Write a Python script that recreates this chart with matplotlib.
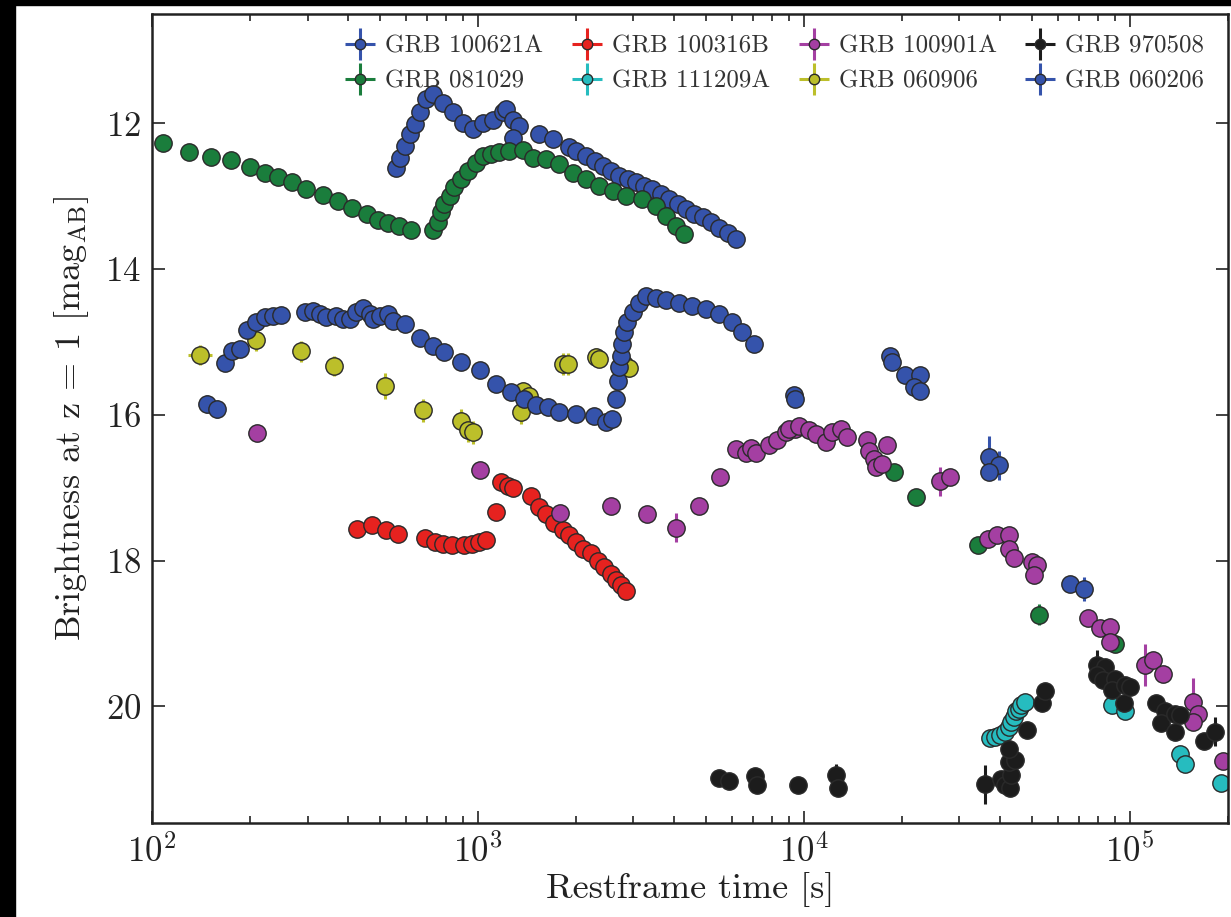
import numpy as np
import matplotlib
matplotlib.use("Agg")
import matplotlib.pyplot as plt
from matplotlib.patches import Rectangle
from matplotlib.ticker import LogLocator, NullFormatter, FixedLocator
from matplotlib.container import ErrorbarContainer
from matplotlib.legend_handler import HandlerErrorbar

# --- Restframe light curves of bright GRB afterglows at z = 1 ---

plt.rcParams['font.family'] = 'serif'
plt.rcParams['font.serif'] = ['cmr10']
plt.rcParams['mathtext.fontset'] = 'cm'
plt.rcParams['axes.formatter.use_mathtext'] = True

# GRB 100621A (blue, top)
t_100621A = [561, 575, 596, 617, 639, 662, 694, 727, 780, 837, 898, 964, 1035, 1110,
             1191, 1220, 1280, 1341, 1280, 1542, 1694, 1906, 2000, 2143, 2280, 2411,
             2560, 2711, 2880, 3049, 3230, 3429, 3640, 3861, 4100, 4343, 4600, 4885,
             5180, 5495, 5830, 6180]
m_100621A = [12.61, 12.47, 12.31, 12.15, 12.01, 11.85, 11.67, 11.60, 11.72, 11.85, 11.99,
             12.08, 11.99, 11.95, 11.85, 11.81, 11.95, 12.04, 12.20, 12.15, 12.22, 12.33,
             12.38, 12.45, 12.52, 12.58, 12.65, 12.72, 12.77, 12.81, 12.86, 12.90, 12.97,
             13.04, 13.11, 13.18, 13.24, 13.29, 13.36, 13.43, 13.51, 13.59]

# GRB 081029 (green)
t_081029 = [108, 130, 152, 175, 200, 222, 244, 268, 296, 334, 373, 411, 456, 494, 531,
            572, 624,
            727, 754, 771, 789, 818, 847, 889, 931, 988, 1035, 1097, 1164, 1248, 1371,
            1471, 1615, 1778, 1951, 2143, 2355, 2587, 2843, 3197, 3514, 3770, 4047, 4290,
            18880, 22090, 34200, 52500, 90100]
m_081029 = [12.27, 12.39, 12.46, 12.51, 12.60, 12.68, 12.74, 12.81, 12.90, 12.99, 13.06,
            13.16, 13.24, 13.32, 13.37, 13.41, 13.47,
            13.47, 13.36, 13.22, 13.11, 13.00, 12.88, 12.77, 12.65, 12.54, 12.45, 12.42,
            12.40, 12.38, 12.36, 12.47, 12.49, 12.56, 12.68, 12.77, 12.86, 12.93, 13.00,
            13.04, 13.13, 13.27, 13.41, 13.52,
            16.78, 17.13, 17.78, 18.74, 19.14]
e_081029 = [0] * 47 + [0.15, 0]

# GRB 100316B (red)
t_100316B = [426, 474, 521, 568, 686, 736, 780, 832, 909, 959, 1010, 1059, 1138, 1178,
             1235, 1280, 1457, 1543, 1618, 1715, 1820, 1906, 2000, 2095, 2222, 2330,
             2442, 2560, 2650, 2744, 2843]
m_100316B = [17.56, 17.51, 17.58, 17.63, 17.69, 17.74, 17.77, 17.79, 17.79, 17.77, 17.74,
             17.72, 17.33, 16.92, 16.97, 17.01, 17.11, 17.26, 17.36, 17.49, 17.58, 17.65,
             17.74, 17.84, 17.90, 18.00, 18.09, 18.18, 18.27, 18.34, 18.41]

# GRB 111209A (cyan)
t_111209A = [37250, 38600, 39990, 41400, 42440, 43250, 43970, 44740, 45610, 46460,
             47800, 87900, 96600, 142300, 147500, 191000]
m_111209A = [20.43, 20.42, 20.39, 20.35, 20.28, 20.21, 20.14, 20.07, 20.03, 19.98,
             19.94, 19.98, 20.07, 20.66, 20.79, 21.05]

# GRB 100901A (magenta)
t_100901A = [210, 1015, 1783, 2560, 3311, 4046, 4782, 5545, 6177, 6626, 6862, 7110, 7820,
             8290, 8790, 9420, 8990, 9660, 10360, 10860, 11650, 12210, 12950, 13570,
             15640, 15820, 16390, 16590, 17390, 17990, 26190, 28100, 36810, 39080, 42440,
             42440, 43970, 50000, 51800, 50700, 74600, 81000, 86900, 86900, 111200,
             118000, 126500, 156600, 162300, 156600, 193000]
m_100901A = [16.25, 16.75, 17.34, 17.25, 17.36, 17.55, 17.25, 16.85, 16.47, 16.53, 16.45,
             16.53, 16.42, 16.35, 16.24, 16.19, 16.19, 16.15, 16.21, 16.26, 16.37, 16.24,
             16.19, 16.31, 16.35, 16.49, 16.60, 16.72, 16.67, 16.42, 16.91, 16.85, 17.70,
             17.65, 17.65, 17.84, 17.97, 18.02, 18.06, 18.20, 18.79, 18.92, 18.91, 19.11,
             19.43, 19.37, 19.55, 19.94, 20.11, 20.22, 20.75]
e_100901A = [0, 0, 0, 0, 0, 0.2, 0, 0, 0, 0, 0, 0, 0, 0, 0, 0, 0, 0, 0, 0, 0, 0, 0, 0,
             0, 0, 0, 0, 0, 0, 0.2, 0, 0, 0, 0, 0, 0, 0, 0, 0, 0, 0, 0, 0.12, 0.29, 0, 0,
             0.33, 0, 0, 0]

# GRB 060906 (yellow)
t_060906 = [140, 209, 286, 362, 520, 678, 889, 931, 965, 1371, 1430, 1356, 1820, 1885,
            2300, 2355, 2810, 2911]
m_060906 = [15.18, 14.97, 15.13, 15.33, 15.60, 15.94, 16.08, 16.21, 16.24, 15.67, 15.74,
            15.96, 15.30, 15.30, 15.20, 15.23, 15.30, 15.36]
e_060906 = [0.14, 0.15, 0.14, 0.14, 0.18, 0.16, 0.16, 0.16, 0.16, 0.12, 0.12, 0.16,
            0.15, 0.15, 0.12, 0.12, 0.12, 0.12]
xe_060906 = [0.037, 0, 0, 0.025, 0, 0, 0, 0, 0, 0, 0, 0, 0, 0, 0, 0, 0, 0]  # dex

# GRB 970508 (black)
t_970508 = [5500, 5900, 7100, 7200, 9600, 12560, 12740, 35960, 40290, 41400, 42950,
            43300, 42440, 44460, 42440, 48300, 53700, 55000, 79300, 84000, 79300, 83000,
            90100, 87900, 96700, 95600, 100000, 120500, 127900, 125000, 137400, 142300,
            137400, 168400, 182800]
m_970508 = [20.98, 21.03, 20.96, 21.08, 21.08, 20.94, 21.12, 21.07, 20.99, 21.08, 21.12,
            20.94, 20.76, 20.73, 20.58, 20.32, 19.96, 19.79, 19.43, 19.46, 19.57, 19.64,
            19.62, 19.78, 19.71, 19.96, 19.74, 19.96, 20.07, 20.23, 20.10, 20.12, 20.35,
            20.48, 20.35]
e_970508 = [0, 0, 0, 0, 0, 0.15, 0, 0.27, 0, 0, 0, 0, 0, 0, 0, 0, 0, 0, 0.2, 0, 0, 0,
            0, 0, 0, 0, 0, 0, 0, 0, 0, 0, 0, 0, 0.2]

# GRB 060206 (blue, middle)
t_060206 = [147, 158, 167, 176, 186, 195, 209, 222, 235, 249, 294, 312, 327, 342, 367,
            385, 404, 423, 443, 465, 476, 499, 529, 548, 596, 662, 727, 789, 888, 1011,
            1138, 1263, 1387, 1507, 1636, 1778, 1999, 2274, 2468, 2586, 2649, 2680, 2711,
            2744, 2775, 2807, 2874, 2981, 3122, 3271, 3510, 3769, 4139, 4545, 4995, 5496,
            6030, 6471, 7031,
            9310, 9420, 18400, 18620, 20470, 22750, 21710, 22750, 36980, 39540, 36980,
            65500, 72500]
m_060206 = [15.85, 15.92, 15.29, 15.13, 15.10, 14.84, 14.73, 14.66, 14.64, 14.63, 14.59,
            14.58, 14.62, 14.66, 14.64, 14.68, 14.68, 14.59, 14.54, 14.62, 14.68, 14.64,
            14.62, 14.71, 14.75, 14.94, 15.05, 15.14, 15.28, 15.39, 15.58, 15.69, 15.78,
            15.87, 15.89, 15.96, 15.99, 16.01, 16.10, 16.05, 15.78, 15.53, 15.35, 15.19,
            15.03, 14.87, 14.73, 14.59, 14.46, 14.37, 14.39, 14.43, 14.46, 14.50, 14.55,
            14.62, 14.73, 14.87, 15.03,
            15.73, 15.78, 15.19, 15.28, 15.46, 15.46, 15.62, 15.67, 16.58, 16.69, 16.78,
            18.32, 18.39]
e_060206 = [0.12, 0.12] + [0] * 65 + [0.29, 0.2, 0, 0, 0.16]

series = [
    ("GRB 100621A", t_100621A, m_100621A, None, None, '#3553ab'),
    ("GRB 081029", t_081029, m_081029, e_081029, None, '#1a7d3c'),
    ("GRB 100316B", t_100316B, m_100316B, None, None, '#e6221f'),
    ("GRB 111209A", t_111209A, m_111209A, None, None, '#26bcbf'),
    ("GRB 100901A", t_100901A, m_100901A, e_100901A, None, '#a43fa2'),
    ("GRB 060906", t_060906, m_060906, e_060906, xe_060906, '#bcbf2a'),
    ("GRB 970508", t_970508, m_970508, e_970508, None, '#1c1c1c'),
    ("GRB 060206", t_060206, m_060206, e_060206, None, '#3553ab'),
]

fig = plt.figure(figsize=(12.31, 9.17), dpi=100)
ax = fig.add_axes([152 / 1231, 1 - 823 / 917, 1076 / 1231, 809 / 917])

for name, t, m, e, xe, col in series:
    t = np.array(t, dtype=float)
    m = np.array(m, dtype=float)
    yerr = np.zeros_like(m) if e is None else np.array(e, dtype=float)
    if xe is None:
        xerr = np.zeros_like(t)
    else:
        xd = np.array(xe, dtype=float)
        xerr = np.vstack([t - t / 10 ** xd, t * 10 ** xd - t])
    ax.errorbar(t, m, yerr=yerr, xerr=xerr, fmt='o', color=col, ecolor=col,
                markerfacecolor=col, markeredgecolor='#2a2a2a', markeredgewidth=1.0,
                markersize=12.5, elinewidth=2.2, capsize=0, label=name)

ax.set_xscale('log')
ax.set_xlim(100, 2.0e5)
ax.set_ylim(21.6, 10.5)
ax.yaxis.set_major_locator(FixedLocator([12, 14, 16, 18, 20]))
ax.xaxis.set_major_locator(LogLocator(base=10))
ax.xaxis.set_minor_locator(LogLocator(base=10, subs=np.arange(2, 10)))
ax.xaxis.set_minor_formatter(NullFormatter())

ax.tick_params(which='both', direction='in', top=True, right=True, width=1.2,
               labelsize=25, colors='#222222', pad=8)
ax.tick_params(which='major', length=9)
ax.tick_params(which='minor', length=5)
for sp in ax.spines.values():
    sp.set_linewidth(1.8)
    sp.set_color('#222222')

ax.set_xlabel("Restframe time [s]", fontsize=26, color='#222222', labelpad=2)
ax.set_ylabel(r"Brightness at z = 1 [mag$_\mathrm{AB}$]", fontsize=26, color='#222222',
              labelpad=10)

leg = ax.legend(loc='upper right', ncol=4, frameon=False, fontsize=18,
                markerscale=0.6, handlelength=1.2, handletextpad=0.4,
                columnspacing=1.15, labelspacing=0.5, borderaxespad=0.2,
                bbox_to_anchor=(0.992, 0.992),
                handler_map={ErrorbarContainer: HandlerErrorbar(xerr_size=0.6,
                                                                yerr_size=0.65)})
for txt in leg.get_texts():
    txt.set_color('#333333')

# black screenshot edges
fig.patches.append(Rectangle((0, 1 - 5 / 917), 1, 5 / 917, transform=fig.transFigure,
                             color='black', zorder=10))
fig.patches.append(Rectangle((0, 0), 15 / 1231, 1, transform=fig.transFigure,
                             color='black', zorder=10))

fig.savefig("out.png", dpi=100, facecolor='white')
